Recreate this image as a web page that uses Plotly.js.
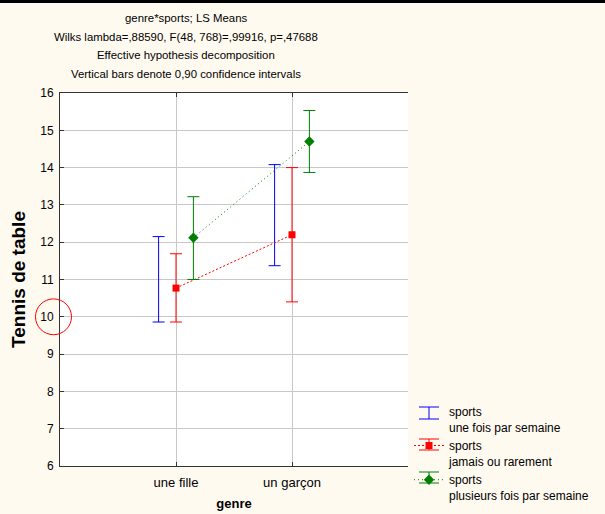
<!DOCTYPE html>
<html>
<head>
<meta charset="utf-8">
<script src="https://cdn.plot.ly/plotly-3.0.1.min.js"></script>
<style>html,body{margin:0;padding:0;background:#fffaf0;}#chart{width:605px;height:514px;}</style>
</head>
<body>
<div id="chart"></div>
<script>
// Data
const categories = ['une fille', 'un garçon'];
const seriesNames = ['sports<br>une fois par semaine', 'sports<br>jamais ou rarement', 'sports<br>plusieurs fois par semaine'];
const meanOnce = [11.0, 12.73];
const upperOnce = [12.15, 14.08];
const lowerOnce = [9.86, 11.37];
const meanNever = [10.77, 12.20];
const upperNever = [11.69, 14.00];
const lowerNever = [9.86, 10.40];
const meanOften = [12.12, 14.70];
const upperOften = [13.22, 15.53];
const lowerOften = [11.00, 13.87];
const titleLines = ['genre*sports; LS Means', 'Wilks lambda=,88590, F(48, 768)=,99916, p=,47688', 'Effective hypothesis decomposition', 'Vertical bars denote 0,90 confidence intervals'];

const colors = ['#0000ff', '#ff0000', '#008000'];

function errs(mean, up, lo, color) {
  return {
    type: 'data', symmetric: false,
    array: mean.map((m, i) => up[i] - m),
    arrayminus: mean.map((m, i) => m - lo[i]),
    thickness: 1, width: 6, color: color
  };
}

const traces = [
  {
    x: categories, y: meanOnce, name: seriesNames[0], type: 'scatter', mode: 'markers',
    marker: {size: 1, color: 'rgba(0,0,255,0)'},
    error_y: errs(meanOnce, upperOnce, lowerOnce, colors[0])
  },
  {
    x: categories, y: meanNever, name: seriesNames[1], type: 'scatter', mode: 'lines+markers',
    line: {color: colors[1], width: 1, dash: '2px,2px'},
    marker: {symbol: 'square', size: 7, color: colors[1]},
    error_y: errs(meanNever, upperNever, lowerNever, colors[1])
  },
  {
    x: categories, y: meanOften, name: seriesNames[2], type: 'scatter', mode: 'lines+markers',
    line: {color: colors[2], width: 1, dash: '1px,3px'},
    marker: {symbol: 'diamond', size: 8, color: colors[2]},
    error_y: errs(meanOften, upperOften, lowerOften, colors[2])
  }
];

// pixel -> paper helpers for decorations (plot area 60..408 x 93..466)
const PL = 60, PR = 408, PT = 93, PB = 466;
const px = v => (v - PL) / (PR - PL);
const py = v => (PB - v) / (PB - PT);

const fam = 'Arial, "Liberation Sans", sans-serif';
const font = {family: fam, size: 12, color: '#000'};
const titleY = [18, 36.5, 55, 73.5];
const annotations = titleLines.map((t, i) => ({
  text: t, xref: 'paper', yref: 'paper', x: px(186), y: py(titleY[i]),
  xanchor: 'center', yanchor: 'middle', showarrow: false, font: {family: fam, size: 11.4, color: '#000'}
}));

// legend error-bar glyphs (decoration next to legend entries)
const legendGlyphs = [
  {c: colors[0], top: 407, bot: 419},
  {c: colors[1], top: 439, bot: 450},
  {c: colors[2], top: 472, bot: 483}
];
const glyphShapes = [];
legendGlyphs.forEach(g => {
  const x0 = 419, x1 = 439, xm = 429;
  glyphShapes.push({type: 'line', xref: 'paper', yref: 'paper', x0: px(x0), x1: px(x1), y0: py(g.top), y1: py(g.top), line: {color: g.c, width: 1}});
  glyphShapes.push({type: 'line', xref: 'paper', yref: 'paper', x0: px(x0), x1: px(x1), y0: py(g.bot), y1: py(g.bot), line: {color: g.c, width: 1}});
  glyphShapes.push({type: 'line', xref: 'paper', yref: 'paper', x0: px(xm), x1: px(xm), y0: py(g.top), y1: py(g.bot), line: {color: g.c, width: 1}});
});

const layout = {
  width: 605, height: 514,
  paper_bgcolor: '#fffaf0', plot_bgcolor: '#ffffff',
  margin: {l: PL, r: 605 - PR, t: PT, b: 514 - PB, pad: 0, autoexpand: false},
  font: font,
  showlegend: true,
  scattermode: 'group', scattergap: 0.55,
  legend: {
    x: px(409), y: py(397), xanchor: 'left', yanchor: 'top',
    bgcolor: 'rgba(0,0,0,0)', font: {family: fam, size: 12, color: '#000'}, valign: 'top', tracegroupgap: 0, itemwidth: 30
  },
  xaxis: {
    type: 'category', range: [-1, 2], automargin: false,
    showgrid: true, gridcolor: '#c8c8c8', gridwidth: 1,
    showline: true, linecolor: '#333', linewidth: 1, mirror: 'ticks',
    ticks: 'inside', ticklen: 4, tickcolor: '#333', ticklabelstandoff: 4,
    zeroline: false, fixedrange: true,
    title: {text: 'genre', font: {family: fam, size: 13, color: '#000', weight: 'bold'}, standoff: 10},
    tickfont: {family: fam, size: 13, color: '#000'}
  },
  yaxis: {
    range: [6, 16], dtick: 1, tick0: 6, automargin: false,
    showgrid: true, gridcolor: '#c8c8c8', gridwidth: 1,
    showline: true, linecolor: '#333', linewidth: 1,
    ticks: 'inside', ticklen: 4, tickcolor: '#333', ticklabelstandoff: 3,
    zeroline: false, fixedrange: true,
    title: {text: 'Tennis de table', font: {family: fam, size: 19, color: '#000', weight: 'bold'}, standoff: 9},
    tickfont: {family: fam, size: 12, color: '#000'}
  },
  yaxis2: {
    overlaying: 'y', side: 'right', range: [0, 8], dtick: 1, automargin: false,
    showgrid: false, zeroline: false, showticklabels: false,
    showline: true, linecolor: '#333', linewidth: 1,
    ticks: 'inside', ticklen: 5, tickcolor: '#333', fixedrange: true
  },
  annotations: annotations,
  shapes: [
    {type: 'circle', xref: 'paper', yref: 'y', x0: px(35.5), x1: px(71.5), y0: 9.52, y1: 10.48,
     line: {color: '#ff0000', width: 1}, fillcolor: 'rgba(0,0,0,0)'},
    {type: 'rect', xref: 'paper', yref: 'paper', x0: -0.3, x1: 1.7, y0: py(3), y1: py(-1),
     line: {width: 0}, fillcolor: '#000'}
  ].concat(glyphShapes)
};

Plotly.newPlot('chart', traces, layout, {displayModeBar: false, staticPlot: true});
</script>
</body>
</html>
